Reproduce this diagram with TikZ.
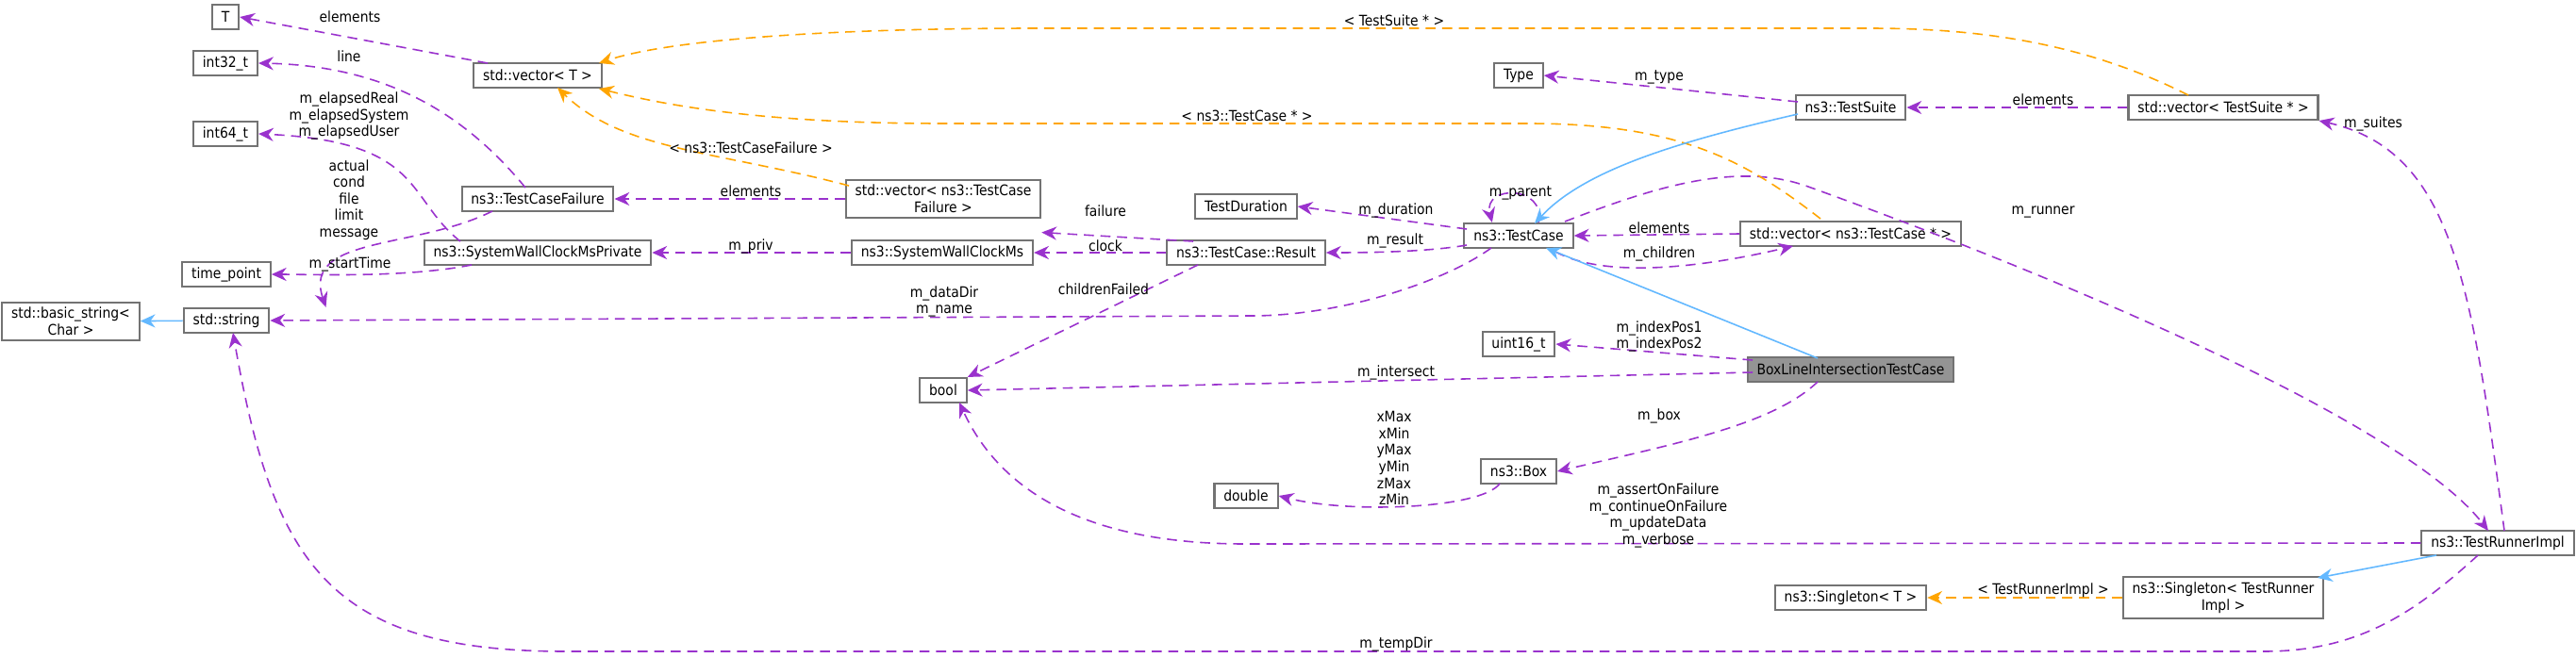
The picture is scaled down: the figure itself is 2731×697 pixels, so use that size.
\documentclass[tikz,border=0pt]{standalone}
\usepackage{fontspec}
\setmainfont{DejaVu Sans Condensed}
\usetikzlibrary{arrows.meta}
\definecolor{mpurple}{HTML}{9A32CD}
\definecolor{morange}{HTML}{FFA500}
\definecolor{mblue}{HTML}{63B8FF}
\tikzset{
  cls/.style={draw=black!55,line width=0.6pt,fill=white,inner xsep=2.8pt,inner ysep=1.6pt,minimum height=0.26cm,align=center},
  mem/.style={->,mpurple,dashed,dash pattern=on 3pt off 2pt,line width=0.45pt},
  tmpl/.style={->,morange,dashed,dash pattern=on 3pt off 2pt,line width=0.45pt},
  inh/.style={->,mblue,line width=0.45pt},
  lbl/.style={inner sep=0.5pt,align=center}
}
\begin{document}
\begin{tikzpicture}[x=0.01cm,y=-0.01cm,>={Stealth[length=4.5pt,width=4pt]},font=\fontsize{4.4}{5}\selectfont]
\useasboundingbox (0,0) rectangle (2731,697);
% nodes
\node[cls] (T) at (239,18) {T};
\node[cls] (int32) at (239,67) {int32\_t};
\node[cls] (int64) at (239,142) {int64\_t};
\node[cls] (timept) at (240,291) {time\_point};
\node[cls] (basicstr) at (75,341) {std::basic\_string\textless\\Char \textgreater};
\node[cls] (str) at (240,340) {std::string};
\node[cls] (vecT) at (570,80) {std::vector\textless{} T \textgreater};
\node[cls] (tcf) at (570,211) {ns3::TestCaseFailure};
\node[cls] (swcp) at (570,268) {ns3::SystemWallClockMsPrivate};
\node[cls] (vectcf) at (1000,211) {std::vector\textless{} ns3::TestCase\\Failure \textgreater};
\node[cls] (swc) at (999,268) {ns3::SystemWallClockMs};
\node[cls] (result) at (1321,268) {ns3::TestCase::Result};
\node[cls] (tdur) at (1321,219) {TestDuration};
\node[cls] (bool) at (1000,414) {bool};
\node[cls] (testcase) at (1610,250) {ns3::TestCase};
\node[cls] (uint16) at (1610,365) {uint16\_t};
\node[cls] (blitc) at (1962,392) [fill=black!42] {BoxLineIntersectionTestCase};
\node[cls] (double) at (1321,526) {double};
\node[cls] (box) at (1610,500) {ns3::Box};
\node[cls] (type) at (1610,80) {Type};
\node[cls] (testsuite) at (1962,114) {ns3::TestSuite};
\node[cls] (vectc) at (1962,248) {std::vector\textless{} ns3::TestCase * \textgreater};
\node[cls] (vects) at (2357,114) {std::vector\textless{} TestSuite * \textgreater};
\node[cls] (runner) at (2648,576) {ns3::TestRunnerImpl};
\node[cls] (singT) at (1962,634) {ns3::Singleton\textless{} T \textgreater};
\node[cls] (singTR) at (2357,634) {ns3::Singleton\textless{} TestRunner\\Impl \textgreater};
% members
\draw[mem] (517,67) -- (T.east);
\node[lbl] at (371,18) {elements};
\draw[mem] (557,199) .. controls (500,130) and (420,70) .. (int32.east);
\node[lbl] at (370,60) {line};
\draw[mem] (488,256) .. controls (430,210) and (450,150) .. (int64.east);
\node[lbl] at (370,123) {m\_elapsedReal\\m\_elapsedSystem\\m\_elapsedUser};
\draw[mem] (522,224) .. controls (440,265) and (320,250) .. ([xshift=30]str.north);
\node[lbl] at (370,212) {actual\\cond\\file\\limit\\message};
\draw[mem] (500,281) .. controls (430,295) and (330,291) .. (timept.east);
\node[lbl] at (371,280) {m\_startTime};
\draw[inh] (str) -- (basicstr);
\draw[mem] (vectcf.west) -- (tcf.east);
\node[lbl] at (796,203) {elements};
\draw[mem] (swc) -- (swcp);
\node[lbl] at (796,261) {m\_priv};
\draw[mem] (result) -- (swc);
\node[lbl] at (1172,261) {clock};
\draw[mem] (1265,256) -- ([yshift=-4]vectcf.south east);
\node[lbl] at (1172,224) {failure};
\draw[mem] (1270,281) -- (bool.north east);
\node[lbl] at (1170,307) {childrenFailed};
\draw[mem] (1555,260) .. controls (1520,266) and (1470,268) .. (result.east);
\node[lbl] at (1479,255) {m\_result};
\draw[mem] (1555,243) -- (tdur.east);
\node[lbl] at (1480,223) {m\_duration};
\draw[mem] ([xshift=6]testcase.north) .. controls +(8,-40) and +(-10,-40) .. ([xshift=-8]testcase.north);
\node[lbl] at (1612,205) {m\_parent};
\draw[mem] (1581,263) .. controls (1530,300) and (1420,335) .. (1327,335) -- (str.east);
\node[lbl] at (1001,320) {m\_dataDir\\m\_name};
\draw[mem] (vectc.west) -- (testcase.east);
\node[lbl] at (1759,242) {elements};
\draw[mem] (1649,267) .. controls (1700,295) and (1800,285) .. (1901,261);
\node[lbl] at (1759,269) {m\_children};
\draw[mem] (1906,108) -- (type.east);
\node[lbl] at (1759,82) {m\_type};
\draw[mem] (vects) -- (testsuite);
\node[lbl] at (2166,106) {elements};
\draw[mem] (2655,563) .. controls (2620,300) and (2600,160) .. (vects.south east);
\node[lbl] at (2516,131) {m\_suites};
\draw[mem] (1659,235) .. controls (1750,200) and (1840,170) .. (1917,198) .. controls (2200,300) and (2550,450) .. (2638,563);
\node[lbl] at (2166,225) {m\_runner};
\draw[mem] (1858,382) -- (uint16.east);
\node[lbl] at (1759,357) {m\_indexPos1\\m\_indexPos2};
\draw[mem] (1858,395) -- (bool.east);
\node[lbl] at (1480,395) {m\_intersect};
\draw[mem] (1927,405) .. controls (1880,450) and (1780,470) .. (box.east);
\node[lbl] at (1759,441) {m\_box};
\draw[mem] (1590,513) .. controls (1570,540) and (1430,545) .. (double.east);
\node[lbl] at (1478,486) {xMax\\xMin\\yMax\\yMin\\zMax\\zMin};
\draw[mem] (runner.west) -- (1320,577) .. controls (1150,577) and (1060,520) .. (1017,427);
\node[lbl] at (1758,547) {m\_assertOnFailure\\m\_continueOnFailure\\m\_updateData\\m\_verbose};
\draw[mem] (2627,589) .. controls (2560,650) and (2500,691) .. (2400,691) -- (600,691) .. controls (350,691) and (290,600) .. (247,353);
\node[lbl] at (1480,683) {m\_tempDir};
% templates
\draw[tmpl] (900,197) .. controls (760,160) and (660,160) .. (591,93);
\node[lbl] at (796,157) {\textless{} ns3::TestCaseFailure \textgreater};
\draw[tmpl] (1930,232) .. controls (1850,170) and (1780,131) .. (1620,131) -- (1000,131) .. controls (800,131) and (700,110) .. (635,94);
\node[lbl] at (1322,123) {\textless{} ns3::TestCase * \textgreater};
\draw[tmpl] (2320,101) .. controls (2200,40) and (2080,30) .. (1981,30) -- (1100,30) .. controls (850,30) and (700,45) .. (635,67);
\node[lbl] at (1478,22) {\textless{} TestSuite * \textgreater};
\draw[tmpl] (singTR.west) -- (singT.east);
\node[lbl] at (2166,626) {\textless{} TestRunnerImpl \textgreater};
% inheritance
\draw[inh] (1906,121) .. controls (1780,150) and (1680,180) .. (1627,237);
\draw[inh] (1927,380) -- (1639,263);
\draw[inh] (2583,589) -- (2457,613);
\end{tikzpicture}
\end{document}
